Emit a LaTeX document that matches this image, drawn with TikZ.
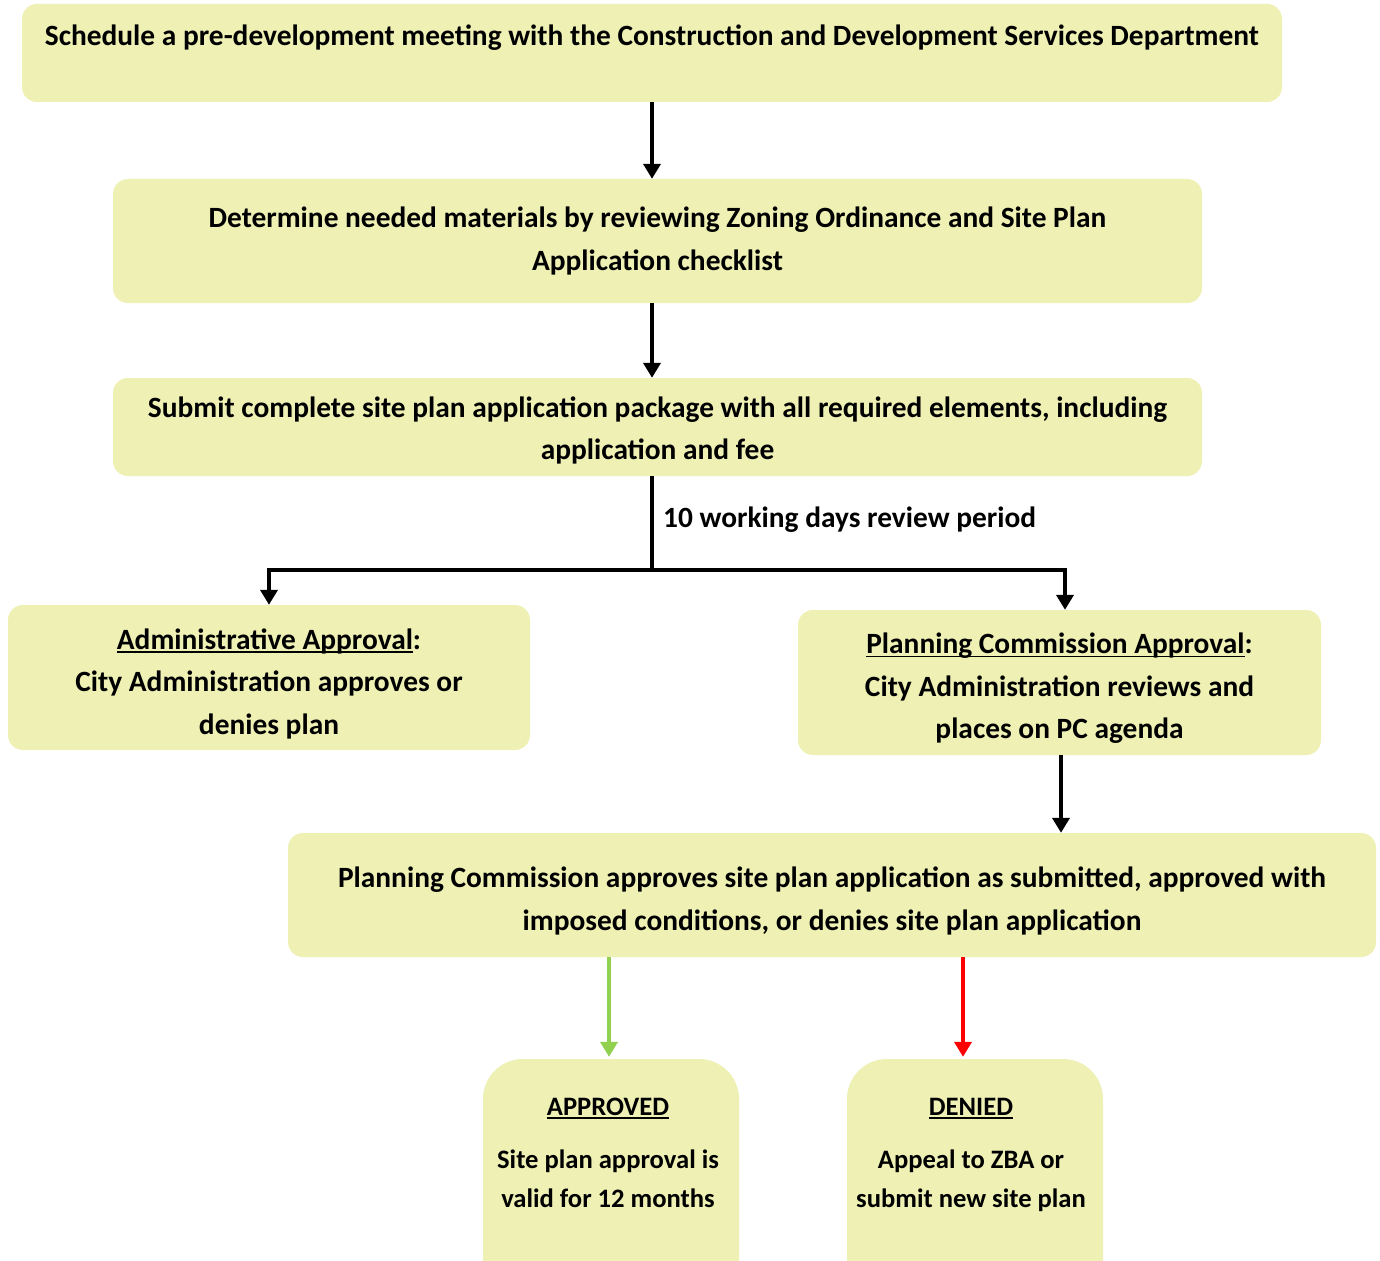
\documentclass[tikz,border=0pt]{standalone}
\usepackage{fontspec}
\setmainfont{Carlito}
\usetikzlibrary{arrows.meta}
\definecolor{boxfill}{RGB}{238,240,180}
\definecolor{okgreen}{RGB}{146,208,80}
\definecolor{nored}{RGB}{255,0,0}
% underline that runs just under the baseline, through descenders
\newsavebox\ulsave
\newcommand{\ulword}[1]{\sbox\ulsave{#1}\rlap{\rule[-3.5pt]{\wd\ulsave}{1.8pt}}\usebox\ulsave}
% empty lead-in line that lowers a block of text inside its box
\newcommand{\lead}[1]{\strut\\[#1]}
\begin{document}
\begin{tikzpicture}[x=1pt,y=-1pt,
  box/.style={fill=boxfill, rounded corners=15pt, inner sep=0pt, align=center,
    font=\bfseries\fontsize{29.4}{42.5}\selectfont},
  endbox/.style={fill=boxfill, rounded corners=40pt, inner sep=0pt,
    minimum width=256pt, minimum height=242pt},
  endtext/.style={align=center, inner sep=0pt, font=\bfseries\fontsize{26.6}{39}\selectfont},
  flow/.style={line width=4pt, line join=miter, -{Triangle[width=17pt,length=15pt]}},
]
\clip (0,0) rectangle (1380,1260);
\fill[white] (0,0) rectangle (1380,1260);

% process boxes
\node[box, minimum width=1260pt, minimum height=98pt] (s1) at (652,53)
  {Schedule a pre-development meeting with the Construction and Development Services Department\\[-20pt] \strut};
\node[box, minimum width=1089pt, minimum height=124pt] (s2) at (657.5,241)
  {Determine needed materials by reviewing Zoning Ordinance and Site Plan\\ Application checklist};
\node[box, minimum width=1089pt, minimum height=98pt] (s3) at (657.5,427)
  {\lead{-44.5pt}Submit complete site plan application package with all required elements, including\\ application and fee};
\node[box, minimum width=522pt, minimum height=145pt] (adm) at (269,677.5)
  {\lead{-39.5pt}\ulword{Administrative Approval}:\\ City Administration approves or\\ denies plan};
\node[box, minimum width=523pt, minimum height=145pt] (pc) at (1059.5,682.5)
  {\lead{-39.5pt}\ulword{Planning Commission Approval}:\\ City Administration reviews and\\ places on PC agenda};
\node[box, minimum width=1088pt, minimum height=124pt] (pcd) at (832,895)
  {\lead{-39.5pt}Planning Commission approves site plan application as submitted, approved with\\ imposed conditions, or denies site plan application};

% outcome boxes
\node[endbox] (appr) at (611,1180) {};
\node[endtext] (apprtxt) at (608,1153)
  {\ulword{APPROVED}\\[14pt] Site plan approval is\\ valid for 12 months};
\node[endbox] (den) at (975,1180) {};
\node[endtext] (dentxt) at (971,1154.5)
  {\ulword{DENIED}\\[14pt] Appeal to ZBA or\\ submit new site plan};

% connectors
\draw[flow] (s1.south) -- (s1.south |- s2.north);
\draw[flow] (s2.south -| s1.south) -- (s1.south |- s3.north);
\coordinate (fork) at (652,570);
\draw[line width=4pt] (s3.south -| fork) -- (fork);
\draw[line width=4pt, line join=miter,
  {Triangle[width=17pt,length=15pt]}-{Triangle[width=17pt,length=15pt]}]
  (adm.north) |- (fork) -| ([xshift=5.5pt]pc.north);
\node[anchor=west, inner sep=0pt, font=\bfseries\fontsize{29.4}{42.5}\selectfont] (lbl) at (663,520)
  {10 working days review period};
\draw[flow] ([xshift=1.5pt]pc.south) -- ([xshift=1.5pt]pc.south |- pcd.north);
\draw[flow, draw=okgreen, fill=okgreen] ([xshift=-2pt]appr.north |- pcd.south) -- ([xshift=-2pt,yshift=2pt]appr.north);
\draw[flow, draw=nored, fill=nored] ([xshift=-12pt]den.north |- pcd.south) -- ([xshift=-12pt,yshift=2pt]den.north);
\end{tikzpicture}
\end{document}
